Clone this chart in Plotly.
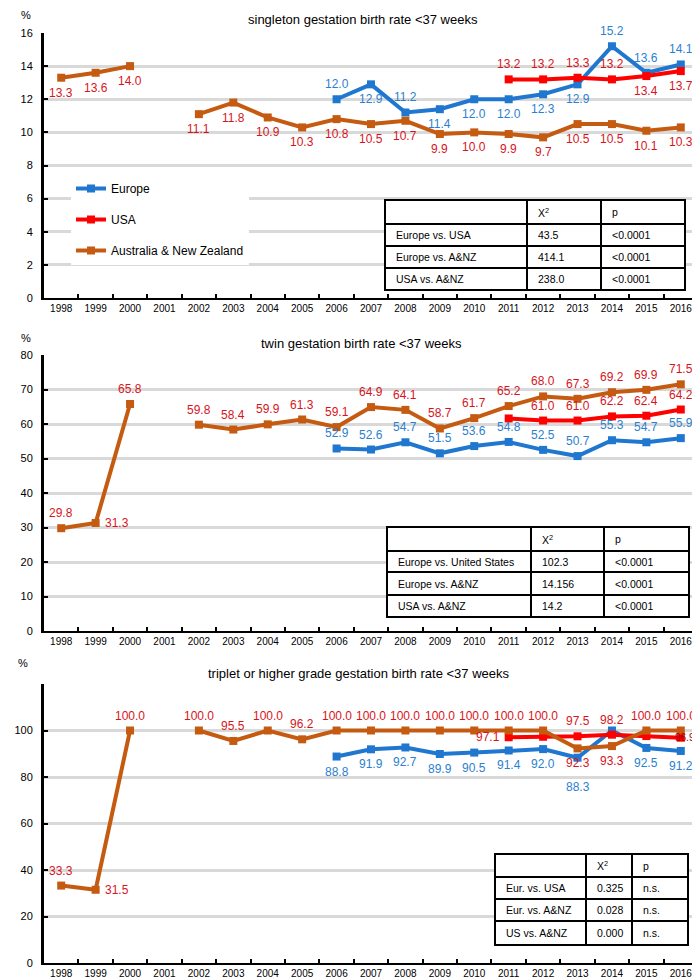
import plotly.graph_objects as go

N = None
years = [str(y) for y in range(1998, 2017)]

# ---------------- data ----------------
sing_eu = [N]*8 + [12.0, 12.9, 11.2, 11.4, 12.0, 12.0, 12.3, 12.9, 15.2, 13.6, 14.1]
sing_us = [N]*13 + [13.2, 13.2, 13.3, 13.2, 13.4, 13.7]
sing_anz = [13.3, 13.6, 14.0, N, 11.1, 11.8, 10.9, 10.3, 10.8, 10.5, 10.7, 9.9, 10.0, 9.9, 9.7, 10.5, 10.5, 10.1, 10.3]

twin_eu = [N]*8 + [52.9, 52.6, 54.7, 51.5, 53.6, 54.8, 52.5, 50.7, 55.3, 54.7, 55.9]
twin_us = [N]*13 + [61.6, 61.0, 61.0, 62.2, 62.4, 64.2]
twin_anz = [29.8, 31.3, 65.8, N, 59.8, 58.4, 59.9, 61.3, 59.1, 64.9, 64.1, 58.7, 61.7, 65.2, 68.0, 67.3, 69.2, 69.9, 71.5]

trip_eu = [N]*8 + [88.8, 91.9, 92.7, 89.9, 90.5, 91.4, 92.0, 88.3, 100.0, 92.5, 91.2]
trip_us = [N]*13 + [97.1, 97.3, 97.5, 98.2, 97.6, 96.9]
trip_anz = [33.3, 31.5, 100.0, N, 100.0, 95.5, 100.0, 96.2, 100.0, 100.0, 100.0, 100.0, 100.0, 100.0, 100.0, 92.3, 93.3, 100.0, 100.0]

# label placement (a = above, b = below, b2 = further below, r = right, l = left,
# e = small, over the end marker, None = no label)
sing_eu_lab = [N]*8 + ['a', 'b', 'a', 'b', 'b', 'b', 'b', 'b', 'a', 'a', 'a']
sing_us_lab = [N]*13 + ['a', 'a', 'a', 'a', 'b', 'b']
sing_anz_lab = ['b']*19

twin_eu_lab = [N]*8 + ['a']*11
twin_us_lab = [N]*13 + [N, 'a', 'a', 'a', 'a', 'a']
twin_anz_lab = ['a', 'r'] + ['a']*17

trip_eu_lab = [N]*8 + ['b']*7 + ['b2', N, 'b', 'b']
trip_us_lab = [N]*13 + ['l', N, 'a', 'a', N, 'e']
trip_anz_lab = ['a', 'r'] + ['a']*13 + ['b', 'b', 'a', 'a']

series_names = ["Europe", "USA", "Australia & New Zealand"]
titles = ["singleton gestation birth rate <37 weeks",
          "twin gestation birth rate <37 weeks",
          "triplet or higher grade gestation birth rate <37 weeks"]

tab1 = [["", "X<sup>2</sup>", "p"], ["Europe vs. USA", "43.5", "<0.0001"],
        ["Europe vs. A&NZ", "414.1", "<0.0001"], ["USA vs. A&NZ", "238.0", "<0.0001"]]
tab2 = [["", "X<sup>2</sup>", "p"], ["Europe vs. United States", "102.3", "<0.0001"],
        ["Europe vs. A&NZ", "14.156", "<0.0001"], ["USA vs. A&NZ", "14.2", "<0.0001"]]
tab3 = [["", "X<sup>2</sup>", "p"], ["Eur. vs. USA", "0.325", "n.s."],
        ["Eur. vs. A&NZ", "0.028", "n.s."], ["US vs. A&NZ", "0.000", "n.s."]]

# ---------------- style ----------------
W, H = 700, 980
FONT = "Liberation Sans, Arial, sans-serif"
line_colors = ["#1f77cf", "#ff0000", "#c55a11"]
label_colors = ["#2b7fd0", "#d7141c", "#d7141c"]


def px(x):
    return x / W


def py(y):
    return 1 - y / H


fig = go.Figure()

panels = [
    (sing_eu, sing_us, sing_anz, sing_eu_lab, sing_us_lab, sing_anz_lab),
    (twin_eu, twin_us, twin_anz, twin_eu_lab, twin_us_lab, twin_anz_lab),
    (trip_eu, trip_us, trip_anz, trip_eu_lab, trip_us_lab, trip_anz_lab),
]

annotations = []
# (xshift, yshift, xanchor, font size)
shift = {'a': (0, 15, 'center', 12), 'b': (0, -15, 'center', 12), 'b2': (0, -29, 'center', 12),
         'r': (8, 0, 'left', 12), 'l': (-8, 0, 'right', 12), 'e': (15, 0, 'right', 10)}

for p, (eu, us, anz, leu, lus, lanz) in enumerate(panels):
    xa = 'x' if p == 0 else f'x{p+1}'
    ya = 'y' if p == 0 else f'y{p+1}'
    for s, (vals, labs) in enumerate([(eu, leu), (us, lus), (anz, lanz)]):
        fig.add_trace(go.Scatter(
            x=years, y=vals, mode='lines+markers', name=series_names[s],
            line=dict(color=line_colors[s], width=4),
            marker=dict(symbol='square', size=8, color=line_colors[s]),
            connectgaps=False, showlegend=(p == 0), legendgroup=series_names[s],
            xaxis=xa, yaxis=ya, hoverinfo='skip'))
        for i, (v, lab) in enumerate(zip(vals, labs)):
            if v is None or lab is None:
                continue
            dx, dy, anc, fs = shift[lab]
            col = '#a00000' if lab == 'e' else label_colors[s]
            annotations.append(dict(
                x=i, y=v, xref=xa, yref=ya, text=f"{v:.1f}", showarrow=False,
                xanchor=anc, yanchor='middle', xshift=dx, yshift=dy, borderpad=0,
                font=dict(family=FONT, size=fs, color=col)))

# axes
xdom = [px(36), px(690)]
ydoms = [[py(290), py(25)], [py(623), py(347)], [py(955), py(676)]]
yranges = [[0, 16], [0, 80], [0, 120]]
ytickvals = [list(range(0, 17, 2)), list(range(0, 81, 10)), list(range(0, 121, 20))]
yticktext = [[str(v) for v in ytickvals[0]], [str(v) for v in ytickvals[1]],
             [str(v) for v in ytickvals[2][:-1]] + [" "]]

for p in range(3):
    sfx = '' if p == 0 else str(p + 1)
    fig.update_layout(**{
        f'xaxis{sfx}': dict(
            domain=xdom, type='category', range=[-0.5, 18.5],
            anchor=f'y{sfx}', showline=True, linecolor='black', linewidth=2,
            ticks='inside', tickson='boundaries', ticklen=4, tickwidth=2, tickcolor='black',
            showgrid=False, zeroline=False,
            tickfont=dict(family=FONT, size=10, color='black'),
            categoryorder='array', categoryarray=years),
        f'yaxis{sfx}': dict(
            domain=ydoms[p], range=yranges[p], anchor=f'x{sfx}',
            tickvals=ytickvals[p], ticktext=yticktext[p],
            showline=True, linecolor='black', linewidth=3,
            ticks='inside', ticklen=4, tickwidth=2, tickcolor='black',
            showgrid=True, gridcolor='#d9d9d9', gridwidth=2.5, zeroline=False,
            ticklabelstandoff=6,
            tickfont=dict(family=FONT, size=11, color='black')),
    })

# titles and % signs
title_pos = [(355, 11), (354, 335), (350, 665)]
pct_pos = [(18, 7), (18, 330), (15, 655)]
for t, (tx, ty), (qx, qy) in zip(titles, title_pos, pct_pos):
    annotations.append(dict(x=px(tx), y=py(ty), xref='paper', yref='paper', text=t,
                            showarrow=False, xanchor='center', yanchor='middle',
                            font=dict(family=FONT, size=13, color='black')))
    annotations.append(dict(x=px(qx), y=py(qy), xref='paper', yref='paper', text='%',
                            showarrow=False, xanchor='center', yanchor='middle',
                            font=dict(family=FONT, size=11, color='black')))

shapes = []
# white block behind the legend (covers gridlines)
shapes.append(dict(type='rect', xref='paper', yref='paper', x0=px(60), x1=px(273),
                   y0=py(268), y1=py(172), fillcolor='white', line=dict(width=0), layer='between'))

# tables
tables = [
    (tab1, [377, 519, 593, 677], [192, 216, 238, 260, 282]),
    (tab2, [379, 523, 596, 681], [519, 543, 564, 587, 609]),
    (tab3, [487, 578, 624, 680], [846, 869, 891, 913, 937]),
]
for rows, xs, ys in tables:
    shapes.append(dict(type='rect', xref='paper', yref='paper', x0=px(xs[0]), x1=px(xs[-1]),
                       y0=py(ys[-1]), y1=py(ys[0]), fillcolor='white',
                       line=dict(color='black', width=2), layer='above'))
    for xv in xs[1:-1]:
        shapes.append(dict(type='line', xref='paper', yref='paper', x0=px(xv), x1=px(xv),
                           y0=py(ys[-1]), y1=py(ys[0]), line=dict(color='black', width=2), layer='above'))
    for yv in ys[1:-1]:
        shapes.append(dict(type='line', xref='paper', yref='paper', x0=px(xs[0]), x1=px(xs[-1]),
                           y0=py(yv), y1=py(yv), line=dict(color='black', width=2), layer='above'))
    for r, row in enumerate(rows):
        for c, txt in enumerate(row):
            if not txt:
                continue
            annotations.append(dict(
                x=px(xs[c] + 9), y=py((ys[r] + ys[r + 1]) / 2), xref='paper', yref='paper',
                text=txt, showarrow=False, xanchor='left', yanchor='middle',
                font=dict(family=FONT, size=10.5, color='black')))

fig.update_layout(
    width=W, height=H, margin=dict(l=0, r=0, t=0, b=0, autoexpand=False),
    paper_bgcolor='white', plot_bgcolor='white',
    annotations=annotations, shapes=shapes,
    legend=dict(x=px(63), y=py(166), xanchor='left', yanchor='top',
                bgcolor='white', borderwidth=0, tracegroupgap=12,
                font=dict(family=FONT, size=12, color='black')),
    showlegend=True,
)

fig.write_html("out.html")
